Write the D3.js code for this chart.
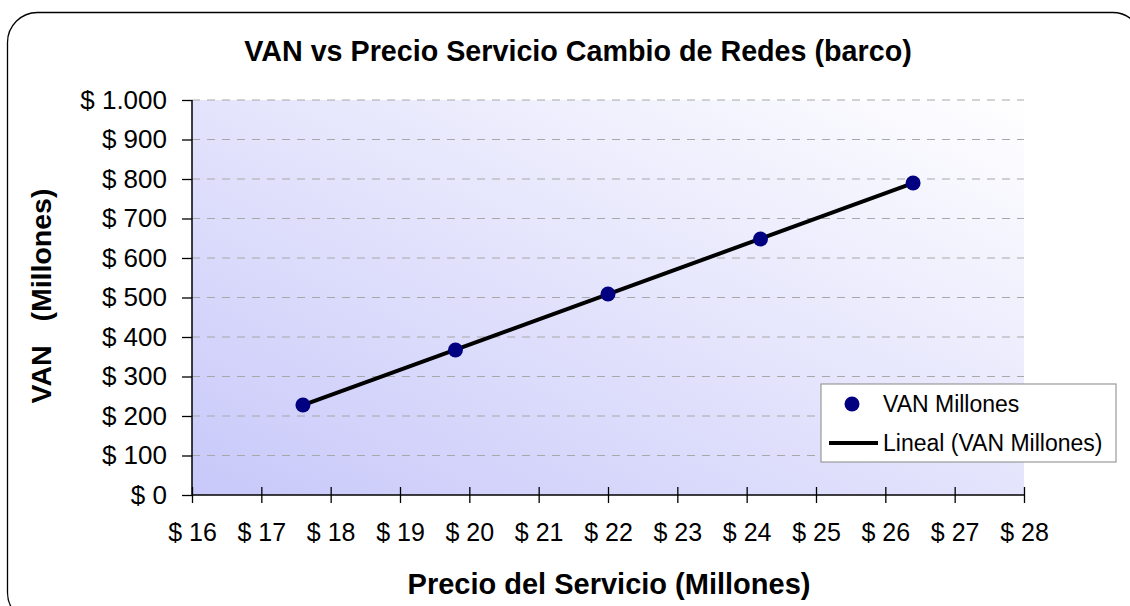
<!DOCTYPE html>
<html>
<head>
<meta charset="utf-8">
<script src="https://cdn.jsdelivr.net/npm/d3@7"></script>
<style>
  body { margin: 0; background: #fff; }
  svg text { font-family: "Liberation Sans", Arial, sans-serif; }
</style>
</head>
<body>
<div id="chart"></div>
<script>
// data
const precios = [17.6, 19.8, 22.0, 24.2, 26.4];
const vanMillones = [228, 367, 509, 648, 790];
const xTicks = [16, 17, 18, 19, 20, 21, 22, 23, 24, 25, 26, 27, 28];
const yTicks = [0, 100, 200, 300, 400, 500, 600, 700, 800, 900, 1000];

const width = 1130, height = 606;
const margin = {top: 100, right: 106, bottom: 111, left: 192};
const innerW = width - margin.left - margin.right,
    innerH = height - margin.top - margin.bottom;

const svg = d3.select('#chart').append('svg')
    .attr('width', width)
    .attr('height', height);

const defs = svg.append('defs');
const grad = defs.append('linearGradient')
    .attr('id', 'bg')
    .attr('x1', 0).attr('y1', 1).attr('x2', 1).attr('y2', 0);
grad.append('stop').attr('offset', '0%').attr('stop-color', '#c8c8fa');
grad.append('stop').attr('offset', '100%').attr('stop-color', '#ffffff');

// outer rounded frame
svg.append('rect')
    .attr('x', 7.5).attr('y', 12.5)
    .attr('width', 1135).attr('height', 610)
    .attr('rx', 30).attr('ry', 30)
    .style('fill', '#fff')
    .style('stroke', '#000')
    .style('stroke-width', 1.3);

const g = svg.append('g')
    .attr('transform', `translate(${margin.left},${margin.top})`);

const x = d3.scaleLinear().domain([16, 28]).range([0, innerW]);
const y = d3.scaleLinear().domain([0, 1000]).range([innerH, 0]);

g.append('rect')
    .attr('width', innerW).attr('height', innerH)
    .style('fill', 'url(#bg)');

// dashed grid
g.selectAll('.grid')
    .data(yTicks.filter(d => d > 0))
    .join('line')
    .attr('class', 'grid')
    .attr('x1', 0).attr('x2', innerW)
    .attr('y1', d => y(d)).attr('y2', d => y(d))
    .style('stroke', '#a8a8a8')
    .style('stroke-width', 1.2)
    .style('stroke-dasharray', '8,7');

const fmt = d => '$ ' + d3.format(',')(d).replace(/,/g, '.');

const yAxis = g.append('g')
    .call(d3.axisLeft(y).tickValues(yTicks).tickFormat(fmt).tickSize(10).tickPadding(15));
yAxis.select('.domain').attr('d', `M0,0V${innerH}`).style('stroke-width', 1.5);
yAxis.selectAll('line').style('stroke-width', 1.3);
yAxis.selectAll('text')
    .style('font-size', '26px')
    .style('fill', '#000');

const xAxis = g.append('g')
    .attr('transform', `translate(0,${innerH})`)
    .call(d3.axisBottom(x).tickValues(xTicks).tickFormat(d => '$ ' + d).tickSize(8).tickPadding(20));
xAxis.select('.domain').attr('d', `M0,0H${innerW}`).style('stroke-width', 1.5);
xAxis.selectAll('.tick line').attr('y1', -8).style('stroke-width', 1.3);
xAxis.selectAll('text')
    .style('font-size', '25px')
    .style('fill', '#000');

// linear trend line (least squares)
const mx = d3.mean(precios), my = d3.mean(vanMillones);
const slope = d3.sum(precios, (p, i) => (p - mx) * (vanMillones[i] - my)) /
    d3.sum(precios, p => (p - mx) * (p - mx));
const icpt = my - slope * mx;
const ext = d3.extent(precios);
g.append('path')
    .datum(ext.map(p => [p, icpt + slope * p]))
    .attr('d', d3.line().x(d => x(d[0])).y(d => y(d[1])))
    .style('fill', 'none')
    .style('stroke', '#000')
    .style('stroke-width', 4);

g.selectAll('.pt')
    .data(precios.map((p, i) => [p, vanMillones[i]]))
    .join('circle')
    .attr('class', 'pt')
    .attr('cx', d => x(d[0]))
    .attr('cy', d => y(d[1]))
    .attr('r', 7.5)
    .style('fill', '#000080');

// titles
svg.append('text')
    .attr('x', 578).attr('y', 61)
    .attr('text-anchor', 'middle')
    .style('font-size', '28.7px')
    .style('font-weight', 'bold')
    .text('VAN vs Precio Servicio Cambio de Redes (barco)');

svg.append('text')
    .attr('x', 609).attr('y', 594)
    .attr('text-anchor', 'middle')
    .style('font-size', '29px')
    .style('font-weight', 'bold')
    .text('Precio del Servicio (Millones)');

svg.append('text')
    .attr('transform', 'translate(51,296) rotate(-90)')
    .attr('text-anchor', 'middle')
    .style('font-size', '28.5px')
    .style('font-weight', 'bold')
    .style('white-space', 'pre')
    .text('VAN   (Millones)');

// legend
const leg = svg.append('g').attr('transform', 'translate(821,384)');
leg.append('rect')
    .attr('width', 295).attr('height', 78)
    .style('fill', '#fff')
    .style('stroke', '#999')
    .style('stroke-width', 1.2);
leg.append('circle')
    .attr('cx', 31).attr('cy', 20).attr('r', 7.5)
    .style('fill', '#000080');
leg.append('line')
    .attr('x1', 8).attr('x2', 57).attr('y1', 59).attr('y2', 59)
    .style('stroke', '#000').style('stroke-width', 4);
leg.append('text')
    .attr('x', 62).attr('y', 28)
    .style('font-size', '23px')
    .text('VAN Millones');
leg.append('text')
    .attr('x', 62).attr('y', 67)
    .style('font-size', '23px')
    .text('Lineal (VAN Millones)');
</script>
</body>
</html>
